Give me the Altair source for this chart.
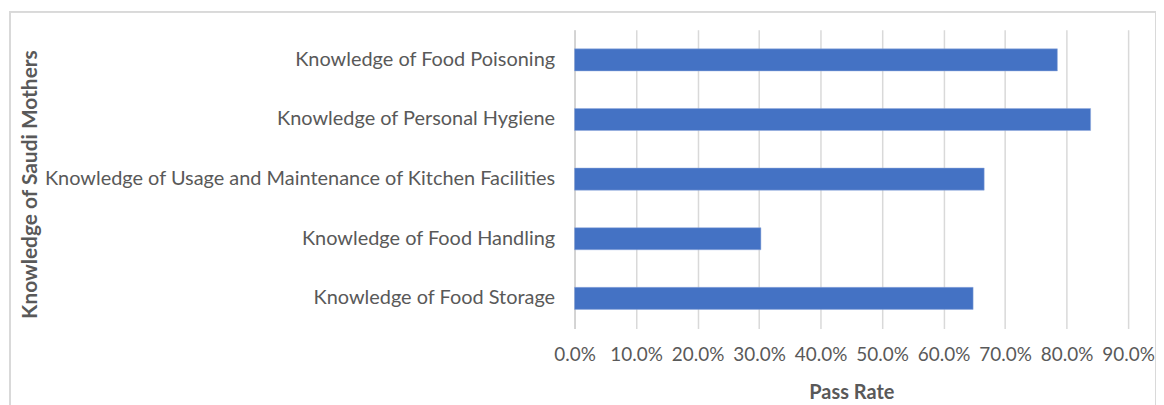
import altair as alt
import pandas as pd

categories = [
    "Knowledge of Food Poisoning",
    "Knowledge of Personal Hygiene",
    "Knowledge of Usage and Maintenance of Kitchen Facilities",
    "Knowledge of Food Handling",
    "Knowledge of Food Storage",
]
pass_rates = [0.785, 0.839, 0.666, 0.303, 0.648]
tick_values = [0.0, 0.1, 0.2, 0.3, 0.4, 0.5, 0.6, 0.7, 0.8, 0.9]

df = pd.DataFrame({"category": categories, "rate": pass_rates})

FONT = "Lato"
GRAY = "#595959"

bars = alt.Chart(df).mark_bar(color="#4472C4", stroke="#8FAADC", strokeWidth=0.5).encode(
    y=alt.Y(
        "category:N",
        sort=categories,
        scale=alt.Scale(paddingInner=0.63, paddingOuter=0.32),
        axis=alt.Axis(
            title="Knowledge of Saudi Mothers",
            titleFont=FONT,
            titleFontSize=21,
            titleFontWeight="bold",
            titleColor=GRAY,
            titleX=-546,
            titleY=155,
            titleAngle=270,
            titleAlign="center",
            titleBaseline="middle",
            labelFont=FONT,
            labelFontSize=20,
            labelColor=GRAY,
            labelPadding=20,
            labelLimit=700,
            ticks=False,
            domain=True,
            domainColor="#d0d0d0",
            domainWidth=1.5,
            grid=False,
        ),
    ),
    x=alt.X(
        "rate:Q",
        scale=alt.Scale(domain=[0, 0.9], nice=False),
        axis=alt.Axis(
            title="Pass Rate",
            titleFont=FONT,
            titleFontSize=20,
            titleFontWeight="bold",
            titleColor=GRAY,
            titleY=64,
            titleBaseline="middle",
            format=".1%",
            values=tick_values,
            labelOverlap=False,
            labelFlush=False,
            labelFont=FONT,
            labelFontSize=19,
            labelColor=GRAY,
            labelPadding=17,
            ticks=False,
            domain=False,
            grid=True,
            gridColor="#d9d9d9",
            gridWidth=1.5,
        ),
    ),
)

frame = alt.Chart(df).mark_rect(fill=None, stroke="#d9d9d9", strokeWidth=1.5, clip=False).encode(
    x=alt.value(-567), x2=alt.value(584), y=alt.value(-18), y2=alt.value(420)
)

chart = (
    alt.layer(bars, frame)
    .properties(
        width=556,
        height=300,
        padding={"left": 569, "top": 21, "right": 28, "bottom": 76},
        autosize=alt.AutoSizeParams(type="none"),
    )
    .configure_view(stroke=None)
)

chart.save("out.html", embed_options={"renderer": "svg", "actions": False})
